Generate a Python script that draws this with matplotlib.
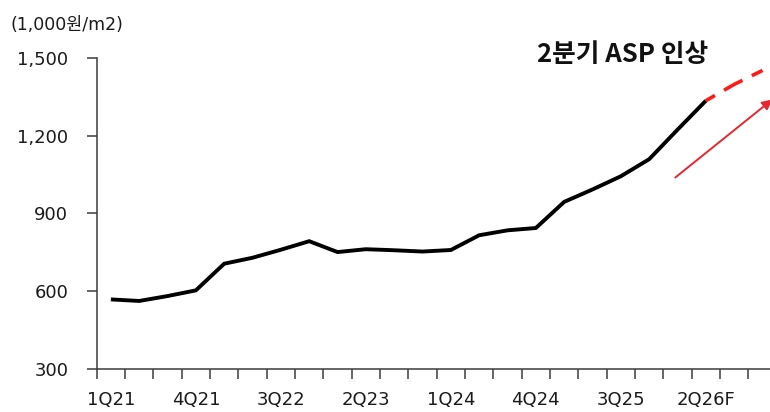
import matplotlib.pyplot as plt
from matplotlib.ticker import FuncFormatter

# quarterly ASP, 1,000 KRW per m2
quarters = ["1Q21", "2Q21", "3Q21", "4Q21", "1Q22", "2Q22", "3Q22", "4Q22",
            "1Q23", "2Q23", "3Q23", "4Q23", "1Q24", "2Q24", "3Q24", "4Q24",
            "1Q25", "2Q25", "3Q25", "4Q25", "1Q26", "2Q26F", "3Q26F", "4Q26F"]
asp = [567, 561, 580, 602, 705, 728, 759, 792, 750, 761, 757, 752,
       758, 815, 834, 843, 944, 992, 1043, 1109, 1223, 1335]
asp_forecast = [1335, 1398, 1452]  # 2Q26F onward

shown_labels = ["1Q21", "4Q21", "3Q22", "2Q23", "1Q24", "4Q24", "3Q25", "2Q26F"]
y_ticks = [300, 600, 900, 1200, 1500]

AXIS_COLOR = "#3c3c3c"
TEXT_COLOR = "#1a1a1a"
FONT = ["DejaVu Sans", "Noto Sans CJK KR"]

plt.rcParams["font.family"] = FONT


def main():
    fig = plt.figure(figsize=(7.7, 4.12), dpi=100)
    ax = fig.add_axes([96.7 / 770, 43.5 / 412, 680 / 770, 310.5 / 412])

    x = list(range(len(asp)))
    ax.plot(x, asp, color="black", lw=2.8, solid_joinstyle="miter",
            solid_capstyle="butt", zorder=3)
    start = len(asp) - 1
    xf = list(range(start, start + len(asp_forecast)))
    # forecast leg: dashed, starting half-way into a dash
    ax.plot(xf, asp_forecast, color="#ff1a1a", lw=2.6,
            linestyle=(2.9, (5.8, 2.9)), dash_capstyle="butt", zorder=3)

    # trend arrow
    ax.annotate("", xy=(23.35, 1340), xytext=(19.92, 1038),
                arrowprops=dict(arrowstyle="-|>", color="#e8262f", lw=1.4,
                                mutation_scale=15, shrinkA=0, shrinkB=0),
                annotation_clip=False)

    ax.set_xlim(-0.5, len(quarters) - 0.5)
    ax.set_ylim(300, 1500)

    # tick marks sit between quarters, labels every third quarter
    ax.set_xticks([i - 0.5 for i in range(len(quarters) + 1)])
    ax.set_xticklabels([])
    ax.set_xticks([quarters.index(q) for q in shown_labels], minor=True)
    ax.set_xticklabels(shown_labels, minor=True)
    ax.tick_params(axis="x", which="major", length=7, width=1.1, color=AXIS_COLOR)
    ax.tick_params(axis="x", which="minor", length=0, pad=16, labelsize=13,
                   labelcolor=TEXT_COLOR)

    ax.set_yticks(y_ticks)
    ax.yaxis.set_major_formatter(FuncFormatter(lambda v, p: f"{v:,.0f}"))
    ax.tick_params(axis="y", length=7, width=1.1, color=AXIS_COLOR, pad=13.5,
                   labelsize=13, labelcolor=TEXT_COLOR)

    for side in ["top", "right"]:
        ax.spines[side].set_visible(False)
    for side in ["left", "bottom"]:
        ax.spines[side].set_color(AXIS_COLOR)
        ax.spines[side].set_linewidth(1.1)

    fig.text(10 / 770, 1 - 25.5 / 412, "(1,000원/m2)", fontsize=12.5,
             color=TEXT_COLOR, va="center", ha="left")
    fig.text(537 / 770, 1 - 54 / 412, "2분기 ASP 인상", fontsize=18.5,
             fontweight="bold", family="Noto Sans CJK KR", color="#111111",
             va="center", ha="left")

    fig.savefig("out.png", dpi=100)


if __name__ == "__main__":
    main()
